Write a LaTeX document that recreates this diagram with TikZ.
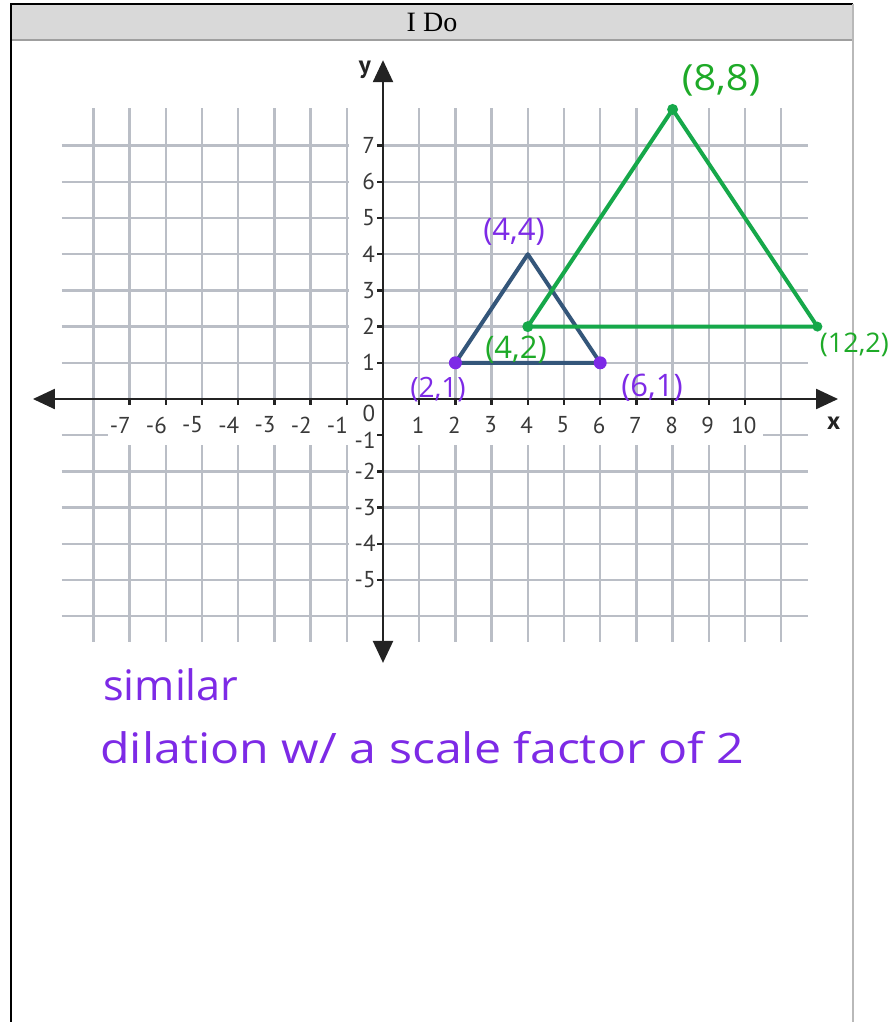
\documentclass[tikz,border=0pt]{standalone}
\usepackage{fontspec}
\setmainfont{Liberation Serif}
\newfontfamily\axisfont{PT Sans}
\newfontfamily\handfont{Open Sans}
\usetikzlibrary{arrows.meta}
\definecolor{gridgray}{RGB}{186,190,198}
\definecolor{axisblack}{RGB}{35,35,35}
\definecolor{triblue}{RGB}{52,86,122}
\definecolor{trigreen}{RGB}{22,168,74}
\definecolor{penpurple}{RGB}{125,42,230}
\definecolor{pengreen}{RGB}{30,170,40}
\definecolor{headgray}{RGB}{217,217,217}
\begin{document}
\begin{tikzpicture}[x=1pt,y=-1pt,
  gridline/.style={draw=gridgray, line width=2.3pt},
  axisline/.style={draw=axisblack, line width=2.3pt},
  axisarrows/.style={axisline, {Triangle[length=22pt,width=20pt]}-{Triangle[length=22pt,width=20pt]}},
  ticklabel/.style={font=\axisfont\fontsize{23}{25}\selectfont, text=axisblack!90, inner sep=0pt},
  axisname/.style={font=\axisfont\bfseries\fontsize{25}{27}\selectfont, text=axisblack, inner sep=0pt},
  bluetri/.style={draw=triblue, line width=4pt, line join=round},
  greentri/.style={draw=trigreen, line width=4pt, line join=round},
  penP/.style={font=\handfont\fontsize{31}{33}\selectfont, text=penpurple, inner sep=0pt},
  penG/.style={font=\handfont\fontsize{31}{33}\selectfont, text=pengreen, inner sep=0pt},
  note/.style={font=\handfont\fontsize{42}{44}\selectfont, text=penpurple, inner sep=0pt, anchor=base west}
]
\useasboundingbox (0,0) rectangle (891,1022);
\fill[white] (0,0) rectangle (891,1022);
% frame and header
\fill[headgray] (11,4) rectangle (853,40);
\draw[gray!75, line width=2pt] (11,40) -- (853,40);
\draw[black, line width=2pt] (11,1022) -- (11,4) -- (853,4);
\draw[gray!55, line width=2.5pt] (853,4) -- (853,1022);
\node[font=\fontsize{28}{30}\selectfont] (title) at (432,22) {I Do};

\begin{scope}[shift={(383pt,-399pt)}, x=36.2pt, y=36.2pt]
  % grid
  \foreach \j in {-6,...,-1,1,2,...,7}
    \draw[gridline] (-8.87,\j) -- (11.75,\j);
  \foreach \i in {-8,...,-1,1,2,...,11}
    \draw[gridline] (\i,-6.7) -- (\i,8.05);
  % label bands
  \fill[white] (-7.6,-0.1) rectangle (10.5,-1.26);
  \fill[white] (-0.95,7.5) rectangle (-0.12,-5.5);
  % axes
  \coordinate (xl) at (-9.67,0);
  \coordinate (xr) at (12.57,0);
  \coordinate (yb) at (0,-7.29);
  \coordinate (yt) at (0,9.36);
  \draw[axisarrows] (xl) -- (xr);
  \draw[axisarrows] (yb) -- (yt);
  \foreach \i in {-7,...,-1,1,2,...,10}
    \draw[axisline] (\i,0) -- (\i,-0.17);
  \foreach \j in {-5,...,-1,1,2,...,7}
    \draw[axisline] (0,\j) -- (-0.17,\j);
  % x labels
  \foreach \i in {-7,...,-1}
    \node[ticklabel] (xlab\i) at (\i-0.26,-0.72) {\i};
  \foreach \i in {1,...,10}
    \node[ticklabel] (xlab\i) at (\i-0.03,-0.72) {\i};
  % y labels
  \foreach \j in {1,...,7}
    \node[ticklabel, anchor=east] (ylab\j) at (-0.22,\j) {\j};
  \node[ticklabel, anchor=east] (ylabm1) at (-0.2,-1.15) {-1};
  \foreach \j in {-5,...,-2}
    \node[ticklabel, anchor=east] (ylab\j) at (-0.2,\j) {\j};
  \node[ticklabel] (zero) at (-0.39,-0.41) {0};
  \node[axisname] (xname) at (12.45,-0.66) {x};
  \node[axisname] (yname) at (-0.5,9.1) {y};
  % triangles
  \coordinate (A) at (2,1);
  \coordinate (B) at (4,4);
  \coordinate (C) at (6,1);
  \coordinate (D) at (4,2);
  \coordinate (E) at (8,8);
  \coordinate (F) at (12,2);
  \draw[bluetri] (A) -- (B) -- (C) -- cycle;
  \draw[greentri] (D) -- (E) -- (F) -- cycle;
  \fill[trigreen] (D) circle (5.5pt);
  \fill[trigreen] (E) circle (5.5pt);
  \fill[trigreen] (F) circle (5pt);
  \fill[penpurple] (A) circle (6.5pt);
  \fill[penpurple] (C) circle (6.5pt);
\end{scope}
% handwritten labels
\node[penG, font=\handfont\fontsize{36}{38}\selectfont, xscale=1.1] (lE) at (721,80) {(8,8)};
\node[penP] (lB) at (514,232) {(4,4)};
\node[penG] (lD) at (516,350) {(4,2)};
\node[penP, font=\handfont\fontsize{28}{30}\selectfont] (lA) at (438,390) {(2,1)};
\node[penP] (lC) at (652,388) {(6,1)};
\node[penG, anchor=east, font=\handfont\fontsize{27}{29}\selectfont] (lF) at (889,345) {(12,2)};
\node[note, xscale=1.03] (sim) at (103,700) {similar};
\node[note, xscale=1.15] (dil) at (100,763) {dilation w/ a scale factor of 2};
\end{tikzpicture}
\end{document}
